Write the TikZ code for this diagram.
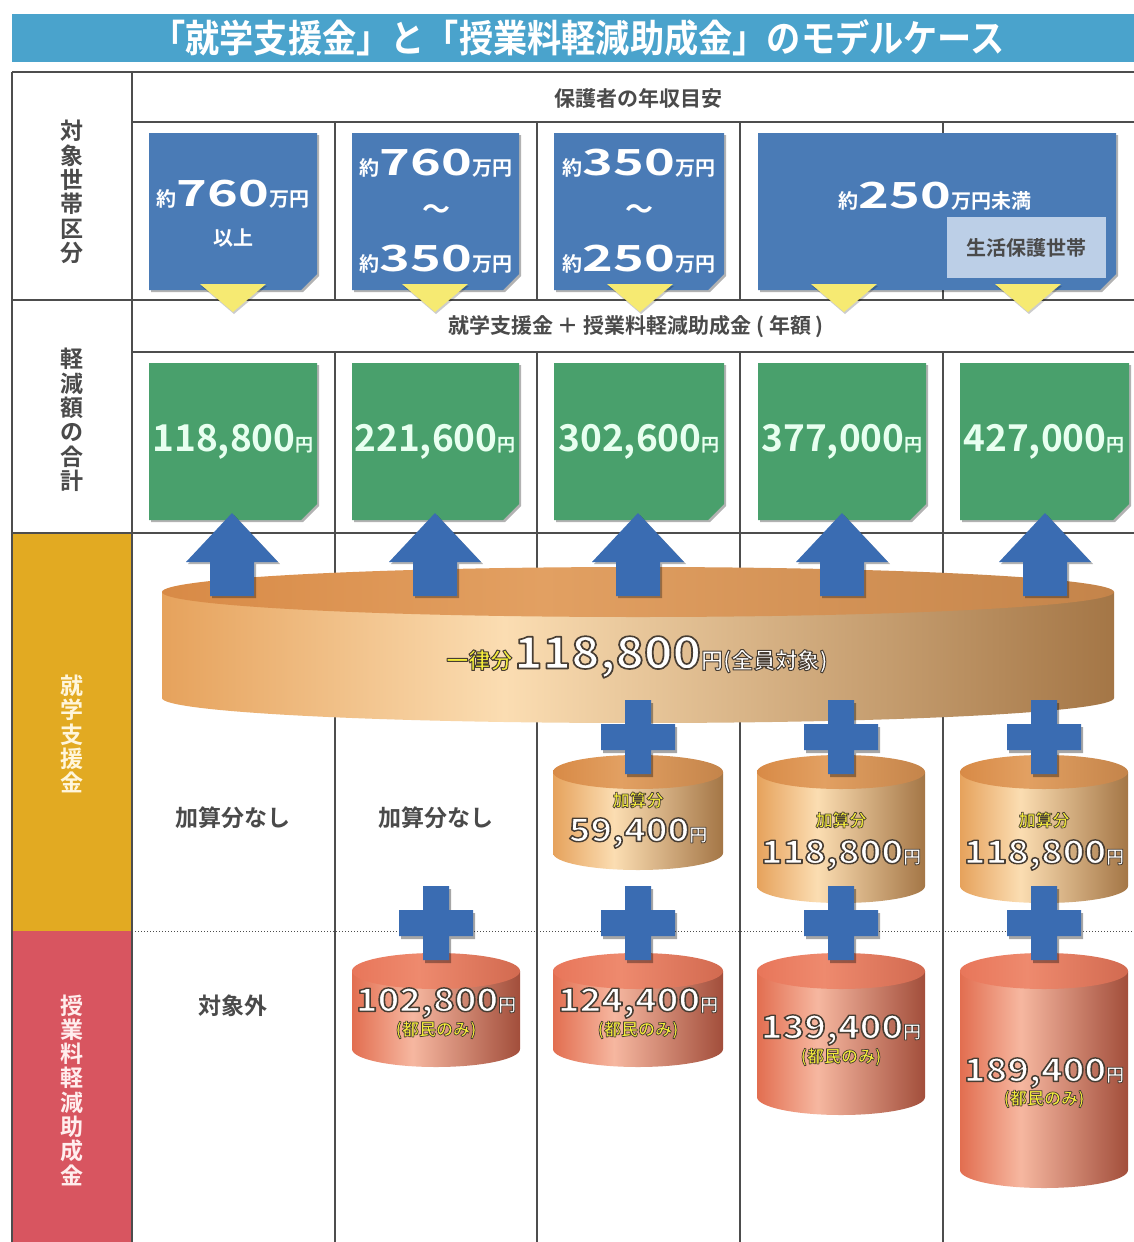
\documentclass[tikz,border=0pt]{standalone}
\usepackage{fontspec}
\setmainfont{Noto Sans CJK JP}[BoldFont={Noto Sans CJK JP Bold}]
\usepackage{graphicx}
\usetikzlibrary{shadows}
\definecolor{titlebg}{HTML}{4AA3CC}
\definecolor{gridc}{HTML}{4D4D4D}
\definecolor{goldlab}{HTML}{E2AA22}
\definecolor{redlab}{HTML}{D85560}
\definecolor{boxblue}{HTML}{4A7BB6}
\definecolor{boxgreen}{HTML}{49A06C}
\definecolor{subbox}{HTML}{BCCFE7}
\definecolor{triy}{HTML}{F6EA72}
\definecolor{arrowb}{HTML}{3A6CB2}
\definecolor{txtgray}{HTML}{4A4A4A}
\definecolor{mint}{HTML}{E8FFF0}
\definecolor{ylw}{HTML}{F4EC3A}
\definecolor{gA}{HTML}{E6A25C}
\definecolor{gB}{HTML}{FBDDB2}
\definecolor{gD}{HTML}{A47646}
\definecolor{tA}{HTML}{D88A46}
\definecolor{tB}{HTML}{E2A062}
\definecolor{tC}{HTML}{C4844A}
\definecolor{rA}{HTML}{E26E50}
\definecolor{rB}{HTML}{F6B7A0}
\definecolor{rD}{HTML}{A24E3B}
\definecolor{rtA}{HTML}{E8765A}
\definecolor{rtB}{HTML}{EE8A6E}
\definecolor{rtC}{HTML}{D26A50}
\pgfdeclarehorizontalshading{goldbody}{100bp}{color(0bp)=(gA); color(25bp)=(gA); color(43bp)=(gB); color(75bp)=(gD); color(100bp)=(gD)}
\pgfdeclarehorizontalshading{goldtop}{100bp}{color(0bp)=(tA); color(25bp)=(tA); color(45bp)=(tB); color(75bp)=(tC); color(100bp)=(tC)}
\pgfdeclarehorizontalshading{redbody}{100bp}{color(0bp)=(rA); color(25bp)=(rA); color(43bp)=(rB); color(75bp)=(rD); color(100bp)=(rD)}
\pgfdeclarehorizontalshading{redtop}{100bp}{color(0bp)=(rtA); color(25bp)=(rtA); color(45bp)=(rtB); color(75bp)=(rtC); color(100bp)=(rtC)}
\newcommand\fsz[1]{\fontsize{#1}{#1}\selectfont}
\newcommand\hsc[2]{\scalebox{#1}[1]{#2}}
\newcommand\outl[2][1.4]{\special{pdf:literal direct 0.28 0.24 0.2 RG #1 w 1 j 2 Tr}#2\special{pdf:literal direct 0 Tr}}
\newcommand\yak{{\fsz{20}約}}
\newcommand\man{{\fsz{20}万円}}
\newcommand\dig[1]{\hsc{1.45}{\fsz{36}#1}}
\newcommand\cyl[6]{%
  \shade[shading=#6body] (#1-#2,#3) -- (#1-#2,#4) arc[start angle=180,end angle=0,x radius=#2,y radius=#5] -- (#1+#2,#3) -- cycle;
  \shade[shading=#6top] (#1,#3) ellipse[x radius=#2, y radius=#5];}
\newcommand\cutbox[5]{\fill[#5] (#1,#2) -- (#3,#2) -- (#3,#4-16) -- (#3-16,#4) -- (#1,#4) -- cycle;}
\newcommand\upar[1]{\fill[arrowsh] (#1,513) -- (#1+46,562) -- (#1+22,562) -- (#1+22,596) -- (#1-22,596) -- (#1-22,562) -- (#1-46,562) -- cycle;}
\newcommand\plus[2]{\fill[plussh] (#1-13,#2-37) rectangle (#1+13,#2+37) (#1-37,#2-13) rectangle (#1+37,#2+13);}
\newcommand\tri[1]{\fill[trish] (#1-33,284) -- (#1+33,284) -- (#1,312) -- cycle;}
\begin{document}
\begin{tikzpicture}[x=1pt,y=-1pt,
  grid/.style={draw=gridc, line width=1.2pt},
  bsh/.style={drop shadow={shadow xshift=2pt,shadow yshift=-2pt,opacity=0.3,fill=black}},
  bluebox/.style={fill=boxblue,bsh},
  greenbox/.style={fill=boxgreen,bsh},
  trish/.style={fill=triy,drop shadow={shadow xshift=1pt,shadow yshift=-2pt,opacity=0.2,fill=black}},
  arrowsh/.style={fill=arrowb,bsh},
  plussh/.style={fill=arrowb,drop shadow={shadow xshift=2pt,shadow yshift=-3pt,opacity=0.35,fill=black}},
  t/.style={inner sep=0pt, font=\bfseries},
  hdr/.style={t, text=txtgray, font=\bfseries\fsz{21}},
  lab/.style={t, text=txtgray, font=\bfseries\fsz{23}},
  vlab/.style={t, align=center, font=\bfseries\fontsize{23}{24.3}\selectfont},
  wtxt/.style={t, text=white},
  gtxt/.style={t, text=mint},
  ytxt/.style={t, text=ylw, font=\bfseries\fsz{17}},
]
\useasboundingbox (0,0) rectangle (1134,1242);
\fill[white] (0,0) rectangle (1134,1242);
% title
\fill[titlebg] (12,14) rectangle (1134,62);
\node[t, text=white, font=\bfseries\fsz{38}] (title) at (578,38) {\hsc{0.9}{「就学支援金」と「授業料軽減助成金」のモデルケース}};
% label fills
\fill[goldlab] (12,533) rectangle (132,931);
\fill[redlab] (12,931) rectangle (132,1242);
% grid
\draw[grid] (12,72) -- (1134,72);
\draw[grid] (12,72) -- (12,1242);
\draw[grid] (132,72) -- (132,1242);
\draw[grid] (12,300) -- (1134,300);
\draw[grid] (12,533) -- (1134,533);
\draw[grid] (132,122) -- (1134,122);
\draw[grid] (132,352) -- (1134,352);
\foreach \xx in {335,537,740,943} {\draw[grid] (\xx,122) -- (\xx,300) (\xx,352) -- (\xx,1242);}
\draw[draw=gridc, line width=1pt, dotted] (132,931) -- (1134,931);
% left labels
\node[vlab, text=txtgray] (L1) at (72,192) {対\\象\\世\\帯\\区\\分};
\node[vlab, text=txtgray] (L2) at (72,420) {軽\\減\\額\\の\\合\\計};
\node[vlab, text={rgb,255:red,255;green,246;blue,220}] (L3) at (72,734) {就\\学\\支\\援\\金};
\node[vlab, text={rgb,255:red,255;green,238;blue,238}] (L4) at (72,1090) {授\\業\\料\\軽\\減\\助\\成\\金};
% headers
\node[hdr] (H1) at (638,98) {保護者の年収目安};
\node[hdr] (H2) at (636,327) {就学支援金 ＋ 授業料軽減助成金 ( 年額 )};
% blue boxes
\cutbox{149}{133}{317}{290}{bluebox}
\cutbox{352}{133}{519}{290}{bluebox}
\cutbox{554}{133}{724}{290}{bluebox}
\cutbox{758}{133}{1116}{290}{bluebox}
\fill[subbox] (947,217) rectangle (1106,278);
\node[wtxt] (b1a) at (233,194) {\yak\dig{760}\man};
\node[wtxt, font=\bfseries\fsz{20}] (b1b) at (233,238) {以上};
\node[wtxt] (b2a) at (436,163) {\yak\dig{760}\man};
\node[wtxt, font=\bfseries\fsz{28}] (b2b) at (436,212) {～};
\node[wtxt] (b2c) at (436,259) {\yak\dig{350}\man};
\node[wtxt] (b3a) at (639,163) {\yak\dig{350}\man};
\node[wtxt, font=\bfseries\fsz{28}] (b3b) at (639,212) {～};
\node[wtxt] (b3c) at (639,259) {\yak\dig{250}\man};
\node[wtxt] (b4a) at (935,196) {\yak\dig{250}{\fsz{20}万円未満}};
\node[t, text=txtgray, font=\bfseries\fsz{20}] (b4b) at (1026,248) {生活保護世帯};
% triangles
\tri{233}\tri{435}\tri{640}\tri{844}\tri{1028}
% green boxes
\cutbox{149}{363}{317}{520}{greenbox}
\cutbox{352}{363}{519}{520}{greenbox}
\cutbox{554}{363}{724}{520}{greenbox}
\cutbox{758}{363}{926}{520}{greenbox}
\cutbox{960}{363}{1129}{520}{greenbox}
\node[gtxt] (g1) at (233,442) {{\fsz{37}118,800}{\fsz{18}円}};
\node[gtxt] (g2) at (435,442) {{\fsz{37}221,600}{\fsz{18}円}};
\node[gtxt] (g3) at (639,442) {{\fsz{37}302,600}{\fsz{18}円}};
\node[gtxt] (g4) at (842,442) {{\fsz{37}377,000}{\fsz{18}円}};
\node[gtxt] (g5) at (1044,442) {{\fsz{37}427,000}{\fsz{18}円}};
% big cylinder
\cyl{638}{476}{592}{698}{25}{gold}
% arrows
\upar{232}\upar{435}\upar{638}\upar{842}\upar{1045}
\node[wtxt] (big) at (637,657) {{\color{ylw}\fsz{22}\outl[1]{一律分}}\,\hsc{1.1}{\fsz{44}\outl[1.6]{118,800}}{\fsz{22}\outl[1]{円(全員対象)}}};
% small gold cylinders
\cyl{638}{85}{772}{853}{17}{gold}
\cyl{841}{84}{772}{886}{17}{gold}
\cyl{1044}{84}{772}{886}{17}{gold}
% red cylinders
\cyl{436}{84}{971}{1049}{18}{red}
\cyl{638}{85}{971}{1049}{18}{red}
\cyl{841}{84}{971}{1097}{18}{red}
\cyl{1044}{84}{971}{1170}{18}{red}
% plus signs
\plus{638}{737}\plus{841}{737}\plus{1044}{737}
\plus{436}{923}\plus{638}{923}\plus{841}{923}\plus{1044}{923}
% cell texts
\node[lab] (n1) at (233,818) {加算分なし};
\node[lab] (n2) at (436,818) {加算分なし};
\node[lab] (n3) at (233,1006) {対象外};
\node[ytxt] (k3a) at (638,800) {\outl[0.7]{加算分}};
\node[wtxt] (k3b) at (638,833) {\hsc{1.15}{\fsz{32}\outl{59,400}}{\fsz{18}\outl[0.8]{円}}};
\node[ytxt] (k4a) at (841,820) {\outl[0.7]{加算分}};
\node[wtxt] (k4b) at (841,855) {\hsc{1.15}{\fsz{32}\outl{118,800}}{\fsz{18}\outl[0.8]{円}}};
\node[ytxt] (k5a) at (1044,820) {\outl[0.7]{加算分}};
\node[wtxt] (k5b) at (1044,855) {\hsc{1.15}{\fsz{32}\outl{118,800}}{\fsz{18}\outl[0.8]{円}}};
\node[wtxt] (r2a) at (436,1003) {\hsc{1.15}{\fsz{32}\outl{102,800}}{\fsz{18}\outl[0.8]{円}}};
\node[ytxt] (r2b) at (436,1030) {\outl[0.7]{(都民のみ)}};
\node[wtxt] (r3a) at (638,1003) {\hsc{1.15}{\fsz{32}\outl{124,400}}{\fsz{18}\outl[0.8]{円}}};
\node[ytxt] (r3b) at (638,1030) {\outl[0.7]{(都民のみ)}};
\node[wtxt] (r4a) at (841,1030) {\hsc{1.15}{\fsz{32}\outl{139,400}}{\fsz{18}\outl[0.8]{円}}};
\node[ytxt] (r4b) at (841,1057) {\outl[0.7]{(都民のみ)}};
\node[wtxt] (r5a) at (1044,1073) {\hsc{1.15}{\fsz{32}\outl{189,400}}{\fsz{18}\outl[0.8]{円}}};
\node[ytxt] (r5b) at (1044,1099) {\outl[0.7]{(都民のみ)}};
\end{tikzpicture}
\end{document}
